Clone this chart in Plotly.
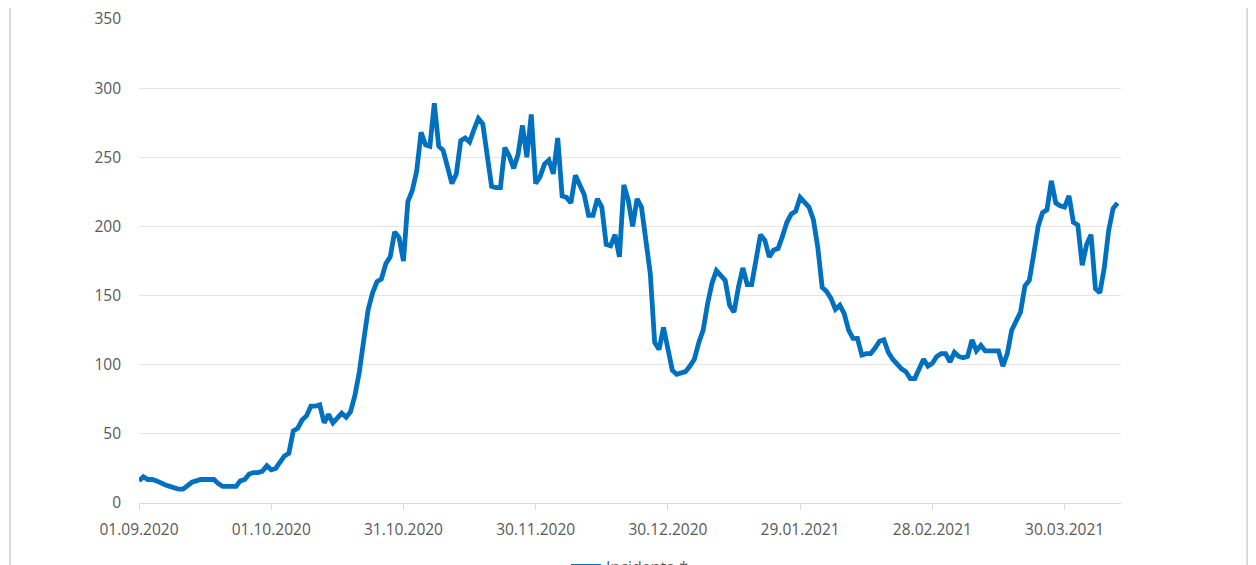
import pandas as pd
import plotly.graph_objects as go

start_date = "2020-09-01"
incidenta = [
    16, 19, 17, 17, 16, 14, 13, 12, 11, 10,
    10, 13, 15, 16, 17, 17, 17, 17, 14, 12,
    12, 12, 12, 16, 17, 21, 22, 22, 23, 27,
    24, 25, 29, 34, 36, 52, 54, 60, 63, 70,
    70, 71, 58, 64, 58, 62, 65, 62, 66, 78,
    95, 118, 140, 152, 160, 162, 173, 178, 196, 192,
    175, 218, 226, 240, 268, 259, 258, 289, 258, 255,
    244, 231, 238, 262, 264, 261, 270, 278, 274, 250,
    229, 228, 228, 257, 251, 242, 252, 273, 250, 281,
    231, 236, 245, 248, 238, 264, 222, 221, 217, 237,
    230, 223, 208, 208, 220, 214, 187, 186, 194, 178,
    230, 219, 200, 220, 214, 188, 166, 116, 111, 127,
    113, 96, 93, 94, 95, 99, 104, 116, 125, 144,
    159, 168, 164, 161, 143, 138, 156, 170, 158, 158,
    176, 194, 190, 178, 183, 184, 193, 203, 209, 211,
    221, 218, 214, 205, 185, 156, 153, 148, 140, 143,
    137, 125, 119, 119, 107, 108, 108, 112, 117, 118,
    109, 104, 100, 97, 95, 90, 90, 97, 104, 99,
    101, 106, 108, 108, 102, 109, 106, 105, 106, 118,
    110, 114, 110, 110, 110, 110, 99, 108, 125, 132,
    138, 157, 161, 180, 200, 210, 212, 233, 217, 215,
    214, 222, 203, 201, 172, 187, 194, 155, 152, 170,
    197, 213, 217,
]
tick_dates = ["2020-09-01", "2020-10-01", "2020-10-31", "2020-11-30",
              "2020-12-30", "2021-01-29", "2021-02-28", "2021-03-30"]
tick_labels = ["01.09.2020", "01.10.2020", "31.10.2020", "30.11.2020",
               "30.12.2020", "29.01.2021", "28.02.2021", "30.03.2021"]
y_ticks = [0, 50, 100, 150, 200, 250, 300, 350]
series_name = "Incidența *"

dates = pd.date_range(start_date, periods=len(incidenta), freq="D")
x_end = dates[-1] + pd.Timedelta(days=0.8)

fig = go.Figure()
fig.add_trace(go.Scatter(
    x=dates, y=incidenta, mode="lines", name=series_name,
    line=dict(color="#0070c0", width=4.8),
))

gray_txt = "#595959"
tick_font = dict(family="Open Sans", size=15.5, color=gray_txt)
fig.update_layout(
    width=1248, height=620,
    margin=dict(l=131, r=135, t=11, b=125, autoexpand=False),
    paper_bgcolor="white", plot_bgcolor="white",
    font=dict(family="Open Sans", size=15, color=gray_txt),
    showlegend=True,
    legend=dict(orientation="h", x=0.5, xanchor="center",
                y=-0.131, yanchor="middle",
                font=dict(family="Open Sans", size=16, color=gray_txt)),
    xaxis=dict(
        range=[dates[0], x_end], tickvals=tick_dates, ticktext=tick_labels,
        showgrid=False, showline=True, linecolor="#d9d9d9", linewidth=1,
        ticks="outside", ticklen=6, tickcolor="#d9d9d9",
        ticklabelstandoff=6, ticklabeloverflow="allow", automargin=False,
        tickfont=tick_font, zeroline=False,
    ),
    yaxis=dict(
        range=[0, 350], tickvals=y_ticks, showgrid=True,
        gridcolor="#e4e4e4", gridwidth=1, zeroline=False,
        ticks="", ticklabelstandoff=17, ticklabeloverflow="allow",
        automargin=False, tickfont=tick_font,
    ),
    shapes=[
        dict(type="line", xref="paper", yref="paper",
             x0=-0.1313, x1=-0.1313, y0=-0.3, y1=1.1,
             line=dict(color="#d9d9d9", width=2)),
        dict(type="line", xref="paper", yref="paper",
             x0=1.1283, x1=1.1283, y0=-0.3, y1=1.1,
             line=dict(color="#d9d9d9", width=2)),
    ],
)

fig.write_html("out.html")
